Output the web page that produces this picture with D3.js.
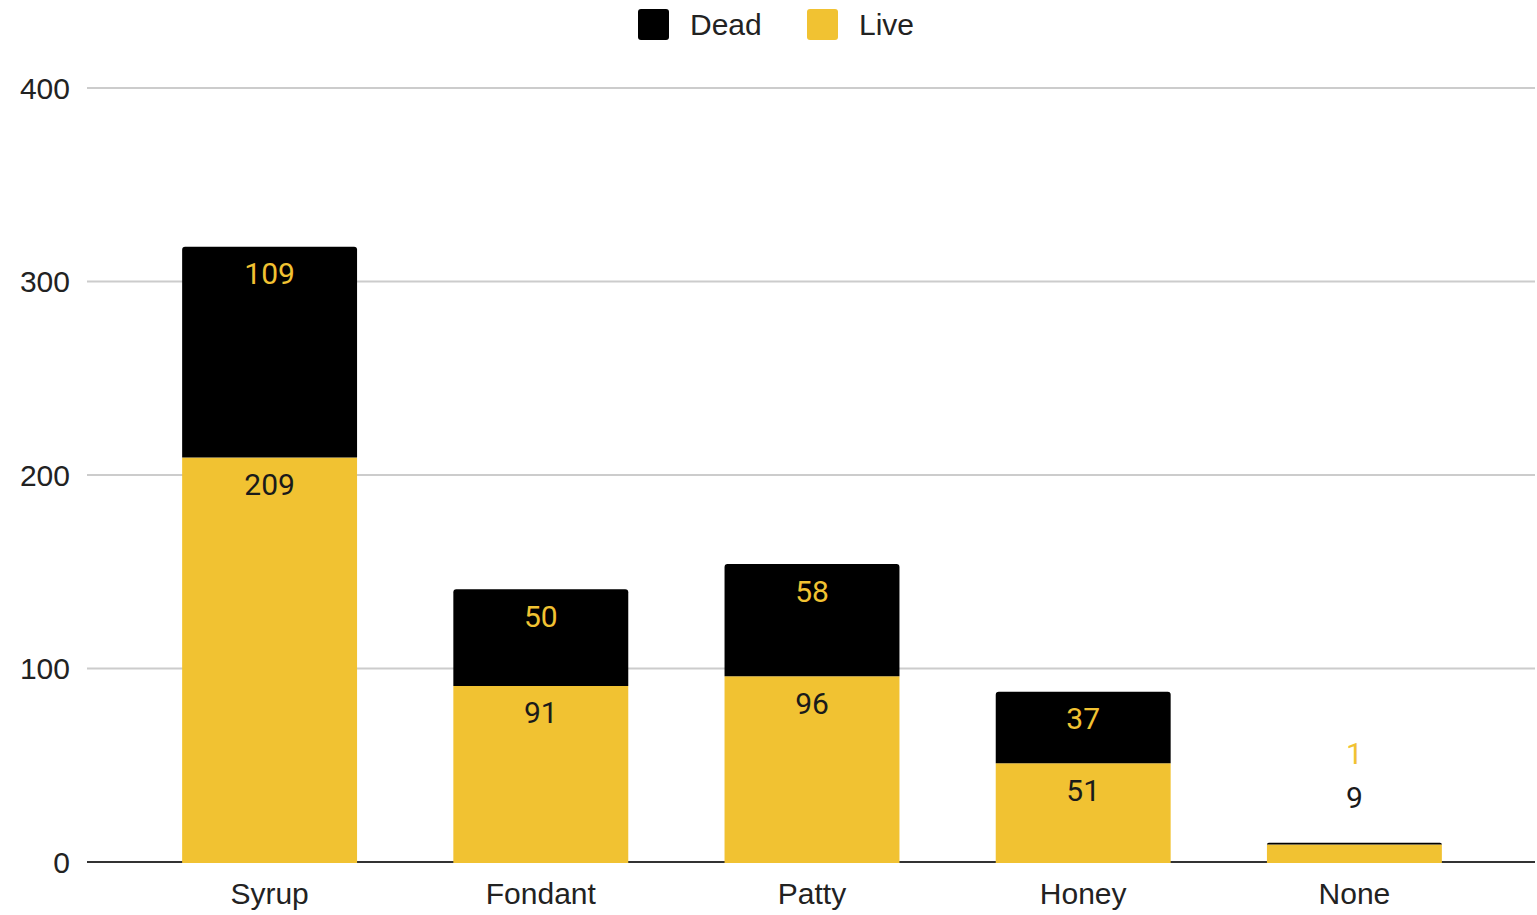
<!DOCTYPE html>
<html>
<head>
<meta charset="utf-8">
<script src="https://cdn.jsdelivr.net/npm/d3@7"></script>
<style>
  html, body { margin: 0; padding: 0; background: #fff; }
  svg { display: block; font-family: "Liberation Sans", Arial, sans-serif; }
</style>
</head>
<body>
<svg id="chart" width="1537" height="915"></svg>
<script>
// Feeding method and colony outcome counts
const categories = ["Syrup", "Fondant", "Patty", "Honey", "None"];
const liveValues = [209, 91, 96, 51, 9];
const deadValues = [109, 50, 58, 37, 1];
const seriesNames = ["Dead", "Live"];
const yTicks = [0, 100, 200, 300, 400];

const colors = { Dead: "#000000", Live: "#F1C232" };
const textColor = "#222222";
const fontSize = 30;
const labelFont = "Roboto, 'Noto Sans', sans-serif";

const svg = d3.select("#chart");
const plot = { left: 87, right: 1535, top: 88, bottom: 862 };

const x = d3.scaleBand()
  .domain(categories)
  .range([134, 1490])
  .paddingInner(0.355)
  .paddingOuter(0.1775);

const y = d3.scaleLinear()
  .domain([0, 400])
  .range([plot.bottom, plot.top]);

// Gridlines
svg.append("g")
  .selectAll("line")
  .data(yTicks.filter(d => d !== 0))
  .join("line")
  .attr("x1", plot.left).attr("x2", plot.right)
  .attr("y1", d => y(d)).attr("y2", d => y(d))
  .attr("stroke", "#cccccc").attr("stroke-width", 2);

// Baseline
svg.append("line")
  .attr("x1", plot.left).attr("x2", plot.right)
  .attr("y1", y(0)).attr("y2", y(0))
  .attr("stroke", "#333333").attr("stroke-width", 2);

// Y tick labels
svg.append("g")
  .selectAll("text")
  .data(yTicks)
  .join("text")
  .attr("x", 70)
  .attr("y", d => y(d))
  .attr("dy", "0.35em")
  .attr("text-anchor", "end")
  .attr("font-size", fontSize)
  .attr("fill", textColor)
  .text(d => d);

// Stacked data
const rows = categories.map((c, i) => ({ category: c, Live: liveValues[i], Dead: deadValues[i] }));
const stack = d3.stack().keys(["Live", "Dead"]);
const stacked = stack(rows);

// Path with rounded top corners only
function topRounded(x0, y0, w, h, r) {
  r = Math.min(r, h, w / 2);
  return `M${x0},${y0 + h}V${y0 + r}Q${x0},${y0} ${x0 + r},${y0}H${x0 + w - r}Q${x0 + w},${y0} ${x0 + w},${y0 + r}V${y0 + h}Z`;
}

const barsG = svg.append("g");
stacked.forEach(layer => {
  const key = layer.key;
  barsG.append("g")
    .selectAll("path")
    .data(layer)
    .join("path")
    .attr("fill", colors[key])
    .attr("d", d => {
      const x0 = x(d.data.category);
      const yTop = y(d[1]);
      const yBot = key === "Live" ? y(d[0]) + 1 : y(d[0]);
      const r = key === "Dead" ? 3 : 0;
      return topRounded(x0, yTop, x.bandwidth(), yBot - yTop, r);
    });
});

// Value labels: inside the top of each segment, or stacked above the bar when the segment is too thin
const labelG = svg.append("g").attr("font-family", labelFont);
rows.forEach((row, i) => {
  const cx = x(row.category) + x.bandwidth() / 2;
  const live = stacked[0][i];
  const dead = stacked[1][i];
  const liveH = y(live[0]) - y(live[1]);
  const deadH = y(dead[0]) - y(dead[1]);
  const minH = 40;
  if (liveH >= minH && deadH >= minH) {
    labelG.append("text")
      .attr("x", cx).attr("y", y(live[1]) + 27).attr("dy", "0.35em")
      .attr("text-anchor", "middle").attr("font-size", fontSize)
      .attr("fill", "#1a1a1a").text(row.Live);
    labelG.append("text")
      .attr("x", cx).attr("y", y(dead[1]) + 27).attr("dy", "0.35em")
      .attr("text-anchor", "middle").attr("font-size", fontSize)
      .attr("fill", colors.Live).text(row.Dead);
  } else {
    const top = y(dead[1]);
    labelG.append("text")
      .attr("x", cx).attr("y", top - 45).attr("dy", "0.35em")
      .attr("text-anchor", "middle").attr("font-size", fontSize)
      .attr("fill", "#1a1a1a").text(row.Live);
    labelG.append("text")
      .attr("x", cx).attr("y", top - 89).attr("dy", "0.35em")
      .attr("text-anchor", "middle").attr("font-size", fontSize)
      .attr("fill", colors.Live).text(row.Dead);
  }
});

// Category labels
svg.append("g")
  .selectAll("text")
  .data(categories)
  .join("text")
  .attr("x", d => x(d) + x.bandwidth() / 2)
  .attr("y", 893)
  .attr("dy", "0.35em")
  .attr("text-anchor", "middle")
  .attr("font-size", fontSize)
  .attr("fill", textColor)
  .text(d => d);

// Legend
const legendX = [638, 807];
const legend = svg.append("g");
seriesNames.forEach((name, i) => {
  legend.append("rect")
    .attr("x", legendX[i]).attr("y", 9)
    .attr("width", 31).attr("height", 31)
    .attr("rx", 3).attr("ry", 3)
    .attr("fill", colors[name]);
  legend.append("text")
    .attr("x", legendX[i] + 52).attr("y", 24.5)
    .attr("dy", "0.35em")
    .attr("font-size", fontSize)
    .attr("fill", textColor)
    .text(name);
});
</script>
</body>
</html>
